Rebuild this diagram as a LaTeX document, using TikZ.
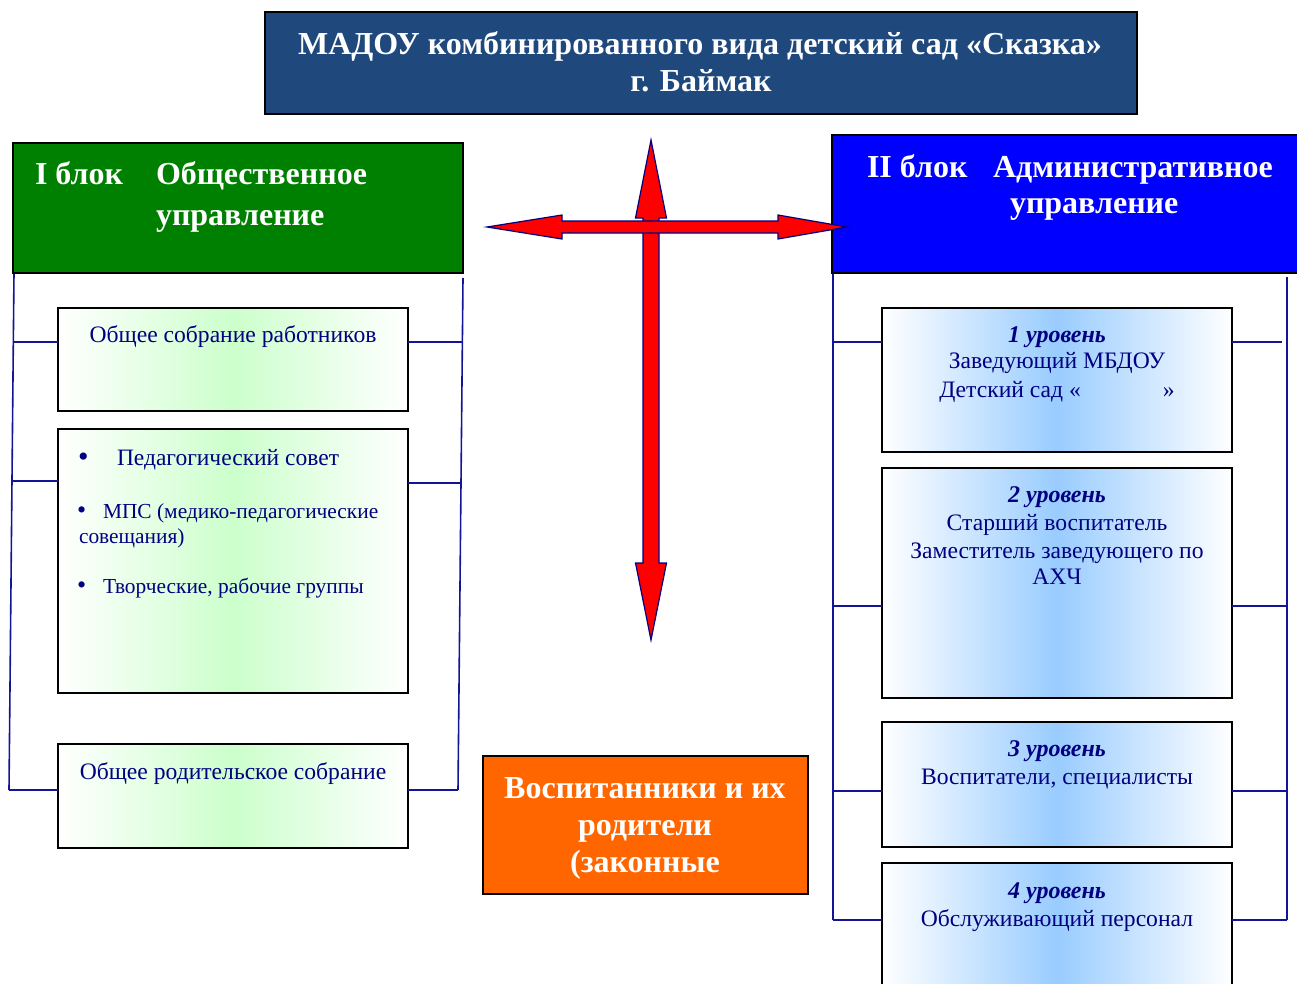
\documentclass[tikz,border=0pt]{standalone}
\usepackage{fontspec}
\setmainfont{Liberation Serif}
\begin{document}
\begin{tikzpicture}[x=1pt,y=-1pt,
  every node/.style={inner sep=0pt, outer sep=0pt},
  bx/.style={draw=black, line width=1.6pt, anchor=north west},
  gbox/.style={bx, left color=white, right color=white, middle color=gmid},
  bbox/.style={bx, left color=white, right color=white, middle color=bmid},
  conn/.style={draw=lnavy, line width=1.6pt},
  txt/.style={text=tnavy, anchor=base, font=\fontsize{23.6}{27}\selectfont},
  txtl/.style={text=tnavy, anchor=base west},
  bul/.style={text=tnavy, anchor=base west, font=\fontsize{30}{30}\selectfont},
  hdr/.style={text=white, anchor=base west, font=\fontsize{32}{36}\selectfont\bfseries},
  lvl/.style={txt, font=\fontsize{24}{27}\selectfont\bfseries\itshape},
  ttl/.style={anchor=base, text=white, font=\fontsize{32}{36}\selectfont\bfseries},
  org/.style={anchor=base, text=white, font=\fontsize{32}{36}\selectfont\bfseries},
  arrowshape/.style={fill=red, draw=tnavy, line width=1.2pt, line join=miter}
]
\definecolor{gmid}{RGB}{204,255,204}
\definecolor{bmid}{RGB}{153,204,255}
\definecolor{lnavy}{RGB}{20,20,150}
\definecolor{tnavy}{RGB}{0,0,128}
\definecolor{titlebg}{RGB}{31,73,125}
\definecolor{hgreen}{RGB}{0,128,0}
\definecolor{hblue}{RGB}{0,0,255}
\definecolor{orng}{RGB}{255,102,0}
\useasboundingbox (0,0) rectangle (1297,983);

% ---------- structure lines (left block)
\coordinate (LLt) at (14,273);
\coordinate (LLb) at (9,790);
\coordinate (LRt) at (463,278);
\coordinate (LRb) at (458,790);
\draw[conn] (LLt) -- (LLb);
\draw[conn] (LRt) -- (LRb);

% ---------- structure lines (right block)
\coordinate (RLt) at (833,273);
\coordinate (RLb) at (833,920);
\coordinate (RRt) at (1287,277);
\coordinate (RRb) at (1287,920);
\draw[conn] (RLt) -- (RLb);
\draw[conn] (RRt) -- (RRb);

% ---------- title
\node[bx, fill=titlebg, minimum width=872pt, minimum height=102pt] (title) at (265,12) {};
\node[ttl] (t1) at (700,54) {МАДОУ комбинированного вида детский сад «Сказка»};
\node[ttl] (t2) at (701,91) {г. Баймак};

% ---------- block I header
\node[bx, fill=hgreen, minimum width=450pt, minimum height=130pt] (blk1) at (13,143) {};
\node[hdr] (h1a) at (35,184) {I блок};
\node[hdr] (h1b) at (156,184) {Общественное};
\node[hdr] (h1c) at (156,225) {управление};

% ---------- block II header
\node[bx, fill=hblue, minimum width=480pt, minimum height=138pt] (blk2) at (832,135) {};
\node[hdr] (h2a) at (867,177) {II блок};
\node[hdr] (h2b) at (993,177) {Административное};
\node[hdr] (h2c) at (1010,213) {управление};

% ---------- left boxes
\node[gbox, minimum width=350pt, minimum height=103pt] (g1) at (58,308) {};
\node[gbox, minimum width=350pt, minimum height=264pt] (g2) at (58,429) {};
\node[gbox, minimum width=350pt, minimum height=104pt] (g3) at (58,744) {};

\coordinate (c1l) at (13.3,342);
\coordinate (c1r) at (462.4,342);
\coordinate (c2l) at (12,481);
\coordinate (c2r) at (461,483);
\draw[conn] (c1l) -- (g1.west |- c1l);
\draw[conn] (g1.east |- c1r) -- (c1r);
\draw[conn] (c2l) -- (g2.west |- c2l);
\draw[conn] (g2.east |- c2r) -- (c2r);
\draw[conn] (LLb) -- (g3.west |- LLb);
\draw[conn] (g3.east |- LRb) -- (LRb);

\node[txt] (g1t) at (233,342) {Общее собрание работников};
\node[bul] (g2b1) at (78,466) {•};
\node[txtl, font=\fontsize{23.5}{27}\selectfont] (g2t1) at (117,465) {Педагогический совет};
\node[bul, font=\fontsize{26}{26}\selectfont] (g2b2) at (77,518) {•};
\node[txtl, font=\fontsize{21.4}{25}\selectfont] (g2t2) at (103,518) {МПС (медико-педагогические};
\node[txtl, font=\fontsize{21.4}{25}\selectfont] (g2t3) at (79,543) {совещания)};
\node[bul, font=\fontsize{26}{26}\selectfont] (g2b3) at (77,593) {•};
\node[txtl, font=\fontsize{21.4}{25}\selectfont] (g2t4) at (103,593) {Творческие, рабочие группы};
\node[txt] (g3t) at (233,779) {Общее родительское собрание};

% ---------- right boxes
\node[bbox, minimum width=350pt, minimum height=144pt] (l1) at (882,308) {};
\node[bbox, minimum width=350pt, minimum height=230pt] (l2) at (882,468) {};
\node[bbox, minimum width=350pt, minimum height=125pt] (l3) at (882,722) {};
\node[bbox, minimum width=350pt, minimum height=150pt] (l4) at (882,863) {};

\coordinate (r1l) at (833,342);
\coordinate (r1r) at (1282,342);
\draw[conn] (r1l) -- (l1.west |- r1l);
\draw[conn] (l1.east |- r1r) -- (r1r);
\coordinate (r2) at (833,606);
\draw[conn] (r2) -- (l2.west |- r2);
\draw[conn] (l2.east |- r2) -- (RRt |- r2);
\coordinate (r3) at (833,791);
\draw[conn] (r3) -- (l3.west |- r3);
\draw[conn] (l3.east |- r3) -- (RRt |- r3);
\draw[conn] (RLb) -- (l4.west |- RLb);
\draw[conn] (l4.east |- RRb) -- (RRb);

\node[lvl] (l1a) at (1057,342) {1 уровень};
\node[txt] (l1b) at (1057,368) {Заведующий МБДОУ};
\node[txt] (l1c) at (1057,397) {Детский сад «\hspace*{82pt}»};
\node[lvl] (l2a) at (1057,502) {2 уровень};
\node[txt] (l2b) at (1057,530) {Старший воспитатель};
\node[txt] (l2c) at (1057,558) {Заместитель заведующего по};
\node[txt] (l2d) at (1057,584) {АХЧ};
\node[lvl] (l3a) at (1057,756) {3 уровень};
\node[txt] (l3b) at (1057,784) {Воспитатели, специалисты};
\node[lvl] (l4a) at (1057,898) {4 уровень};
\node[txt] (l4b) at (1057,926) {Обслуживающий персонал};

% ---------- orange box
\node[bx, fill=orng, minimum width=325pt, minimum height=138pt] (pup) at (483,756) {};
\node[org] (p1) at (645,798) {Воспитанники и их};
\node[org] (p2) at (645,835) {родители};
\node[org] (p3) at (645,872) {(законные};

% ---------- cross arrows
\draw[arrowshape] (651,140) -- (666.5,218) -- (659,218) -- (659,563) -- (666.5,563)
  -- (651,640) -- (635.5,563) -- (643,563) -- (643,218) -- (635.5,218) -- cycle;
\draw[arrowshape] (487,227) -- (562,215) -- (562,221) -- (778,221) -- (778,215)
  -- (847,227) -- (778,239) -- (778,233) -- (562,233) -- (562,239) -- cycle;
\end{tikzpicture}
\end{document}
